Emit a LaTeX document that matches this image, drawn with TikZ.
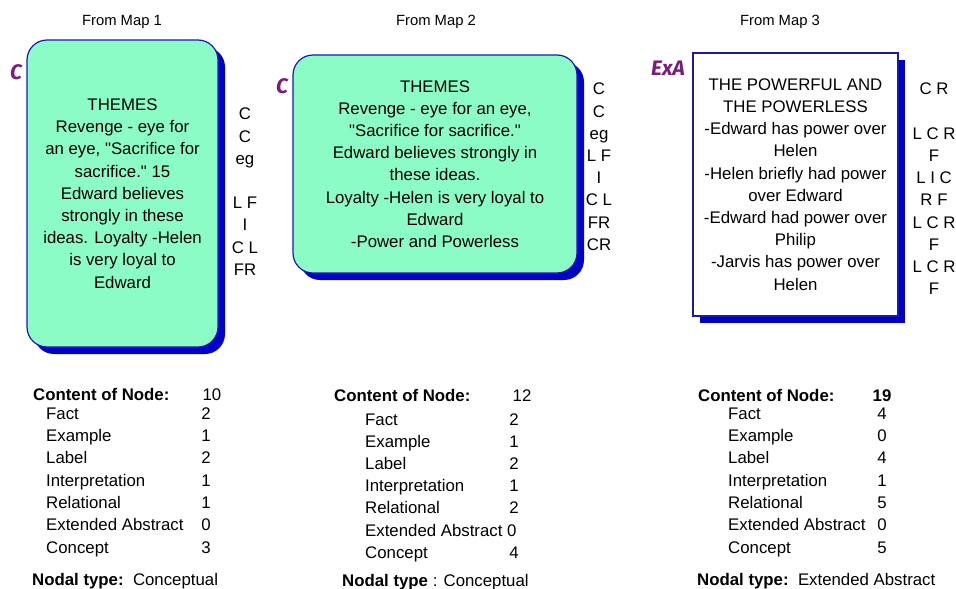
\documentclass[tikz,border=0pt]{standalone}
\usepackage{fontspec}
\setmainfont{Liberation Sans}[Ligatures=TeXOff]
\newfontfamily\tagfont{Fira Sans}
\usetikzlibrary{shadows}
\definecolor{mint}{RGB}{140,252,198}
\definecolor{rimblue}{RGB}{25,25,175}
\definecolor{shadeblue}{RGB}{0,0,205}
\definecolor{tagpurple}{RGB}{122,28,122}
\newcommand{\qt}{\symbol{34}}
\tikzset{
  every node/.style={inner sep=0pt, font=\fontsize{16.8}{22.2}\selectfont},
  mapbox/.style={draw=rimblue, line width=1.2pt, align=center,
    drop shadow={shadow xshift=7pt, shadow yshift=-7pt, fill=shadeblue, opacity=1}},
  codes/.style={anchor=north, align=center},
  tag/.style={text=tagpurple, font=\tagfont\fontsize{21}{24}\selectfont\bfseries\itshape},
  heading/.style={anchor=base, font=\fontsize{14.8}{18}\selectfont}
}
\begin{document}
\begin{tikzpicture}[x=1pt, y=-1pt]
    \useasboundingbox (0, 0) rectangle (956, 589);
    % Headings
    \node[heading] (head1) at (122, 25.3) {From Map 1};
    \node[heading] (head2) at (436, 25.3) {From Map 2};
    \node[heading] (head3) at (780, 25.3) {From Map 3};
    % Map 1
    \node[mapbox, fill=mint, rounded corners=20pt, minimum width=191pt, minimum height=307pt]
        (map1) at (122.5, 193.5) {THEMES\\Revenge - eye for\\an eye, \qt Sacrifice for\\sacrifice.\qt{} 15\\Edward believes\\strongly in these\\ideas. Loyalty -Helen\\is very loyal to\\Edward};
    \node[tag] (tag1) at (16, 72) {C};
    \node[codes] (codes1) at (245, 108) {C\\C\\eg\\[22.2pt]L F\\I\\C L\\FR};
    % Map 2
    \node[mapbox, fill=mint, rounded corners=20pt, minimum width=284pt, minimum height=218pt]
        (map2) at (435, 164) {THEMES\\Revenge - eye for an eye,\\\qt Sacrifice for sacrifice.\qt\\Edward believes strongly in\\these ideas.\\Loyalty -Helen is very loyal to\\Edward\\-Power and Powerless};
    \node[tag] (tag2) at (282, 86) {C};
    \node[codes] (codes2) at (599, 83) {C\\C\\eg\\L F\\I\\C L\\FR\\CR};
    % Map 3
    \node[mapbox, fill=white, minimum width=205pt, minimum height=263pt]
        (map3) at (795.5, 184.5) {THE POWERFUL AND\\THE POWERLESS\\-Edward has power over\\Helen\\-Helen briefly had power\\over Edward\\-Edward had power over\\Philip\\-Jarvis has power over\\Helen};
    \node[tag] (tag3) at (668, 68) {ExA};
    \node[codes] (codes3) at (934, 83) {C R\\[22.2pt]L C R\\F\\L I C\\R F\\L C R\\F\\L C R\\F};
    % Content tables
    \node[anchor=base west] (count1) at (33, 400) {\textbf{Content of Node:}};
    \node[anchor=base] (total1) at (212, 400) {10};
    \foreach \kind/\num [count=\i from 0] in {Fact/2, Example/1, Label/2, Interpretation/1, Relational/1, Extended Abstract/0, Concept/3} {
        \node[anchor=base west] (kindA-\i) at (46, {419.3+22.3*\i}) {\kind};
        \node[anchor=base] (numA-\i) at (206, {419.3+22.3*\i}) {\num};
    }
    \node[anchor=base west] (type1) at (32, 585) {\textbf{Nodal type:}\ \ Conceptual};
    \node[anchor=base west] (count2) at (334, 401) {\textbf{Content of Node:}};
    \node[anchor=base] (total2) at (522, 401) {12};
    \foreach \kind/\num [count=\i from 0] in {Fact/2, Example/1, Label/2, Interpretation/1, Relational/2, Concept/4} {
        \pgfmathsetmacro{\row}{\i<5 ? \i : 6}
        \node[anchor=base west] (kindB-\i) at (365, {425+22.2*\row}) {\kind};
        \node[anchor=base] (numB-\i) at (514, {425+22.2*\row}) {\num};
    }
    \node[anchor=base west] (kindB-ea) at (365, {425+22.2*5}) {Extended Abstract 0};
    \node[anchor=base west] (type2) at (342, 586) {\textbf{Nodal type} : Conceptual};
    \node[anchor=base west] (count3) at (698, 401) {\textbf{Content of Node:}};
    \node[anchor=base] (total3) at (882, 401) {\textbf{19}};
    \foreach \kind/\num [count=\i from 0] in {Fact/4, Example/0, Label/4, Interpretation/1, Relational/5, Extended Abstract/0, Concept/5} {
        \node[anchor=base west] (kindC-\i) at (728, {419.3+22.3*\i}) {\kind};
        \node[anchor=base] (numC-\i) at (882, {419.3+22.3*\i}) {\num};
    }
    \node[anchor=base west] (type3) at (697, 585) {\textbf{Nodal type:}\ \ Extended Abstract};
\end{tikzpicture}
\end{document}
